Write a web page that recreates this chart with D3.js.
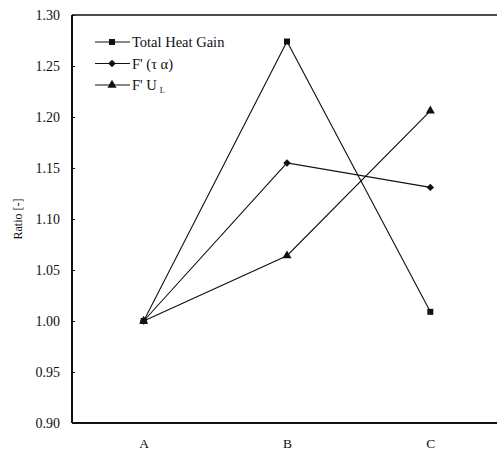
<!DOCTYPE html>
<html>
<head>
<meta charset="utf-8">
<script src="https://cdn.jsdelivr.net/npm/d3@7"></script>
<style>
  html, body { margin: 0; padding: 0; background: #fff; }
  svg { display: block; }
</style>
</head>
<body>
<svg id="chart" width="497" height="453"></svg>
<script>
// Categories along the x axis
const categories = ["A", "B", "C"];

// Series values (ratio relative to case A)
const totalHeatGain = [1.00, 1.274, 1.009];
const fTauAlpha     = [1.00, 1.155, 1.131];
const fUL           = [1.00, 1.064, 1.206];

// Y axis tick values
const yTicks = [0.90, 0.95, 1.00, 1.05, 1.10, 1.15, 1.20, 1.25, 1.30];

// Markers: square, diamond (square turned 45 degrees), triangle
const series = [
  { name: "Total Heat Gain", values: totalHeatGain, symbol: d3.symbolSquare, size: 36, rotate: 0 },
  { name: "F' (\u03C4 \u03B1)", values: fTauAlpha, symbol: d3.symbolSquare, size: 28, rotate: 45 },
  { name: "F' U", sub: "L", values: fUL, symbol: d3.symbolTriangle, size: 36, rotate: 0 }
];

const serif = "'Liberation Serif', 'DejaVu Serif', 'Times New Roman', serif";
const ink = "#111";

const svg = d3.select("#chart");
const plotLeft = 72, plotRight = 502, plotTop = 15, plotBottom = 423;

const x = d3.scalePoint().domain(categories).range([plotLeft, plotRight]).padding(0.5);
const y = d3.scaleLinear().domain([0.90, 1.30]).range([plotBottom, plotTop]);

// Frame: left, top and bottom edges
const frame = svg.append("g").attr("stroke", ink).attr("fill", "none");
frame.append("line").attr("x1", plotLeft).attr("x2", plotLeft).attr("y1", plotTop).attr("y2", plotBottom).attr("stroke-width", 2);
frame.append("line").attr("x1", plotLeft).attr("x2", 497).attr("y1", plotTop).attr("y2", plotTop).attr("stroke-width", 1.6);
frame.append("line").attr("x1", plotLeft).attr("x2", 497).attr("y1", plotBottom).attr("y2", plotBottom).attr("stroke-width", 2);

// Y axis with inward ticks
const yAxis = d3.axisLeft(y).tickValues(yTicks).tickFormat(d3.format(".2f")).tickSize(-3).tickPadding(12);
const gy = svg.append("g").attr("transform", `translate(${plotLeft},0)`).call(yAxis);
gy.select(".domain").remove();
gy.selectAll(".tick line").attr("stroke", ink);
gy.selectAll(".tick text")
  .style("font-family", serif).style("font-size", "14px").attr("fill", ink);

// X axis labels
const xAxis = d3.axisBottom(x).tickSize(0).tickPadding(15);
const gx = svg.append("g").attr("transform", `translate(0,${plotBottom})`).call(xAxis);
gx.select(".domain").remove();
gx.selectAll(".tick text")
  .style("font-family", serif).style("font-size", "13.5px").attr("fill", ink);

// Y axis title
svg.append("text")
  .attr("transform", `translate(22,219) rotate(-90)`)
  .attr("text-anchor", "middle")
  .style("font-family", serif).style("font-size", "12px")
  .attr("fill", ink)
  .text("Ratio [-]");

// Series lines and markers
const line = d3.line().x((d, i) => x(categories[i])).y(d => y(d));
series.forEach(s => {
  svg.append("path")
    .attr("d", line(s.values))
    .attr("fill", "none")
    .attr("stroke", ink)
    .attr("stroke-width", 1.1);
  svg.append("g").selectAll("path")
    .data(s.values)
    .join("path")
    .attr("transform", (d, i) => `translate(${x(categories[i])},${y(d)}) rotate(${s.rotate})`)
    .attr("d", d3.symbol().type(s.symbol).size(s.size))
    .attr("fill", ink);
});

// Legend
const legend = svg.append("g");
series.forEach((s, i) => {
  const ly = 42 + i * 21.5;
  legend.append("line")
    .attr("x1", 95).attr("x2", 130).attr("y1", ly).attr("y2", ly)
    .attr("stroke", ink).attr("stroke-width", 1.1);
  legend.append("path")
    .attr("transform", `translate(112,${ly}) rotate(${s.rotate})`)
    .attr("d", d3.symbol().type(s.symbol).size(s.size))
    .attr("fill", ink);
  const t = legend.append("text")
    .attr("x", 132).attr("y", ly + 5)
    .style("font-family", serif).style("font-size", "14.5px")
    .attr("fill", ink);
  t.append("tspan").text(s.name);
  if (s.sub) {
    t.append("tspan").style("font-size", "8.5px").attr("dx", 3).attr("dy", 3).text(s.sub);
  }
});
</script>
</body>
</html>
